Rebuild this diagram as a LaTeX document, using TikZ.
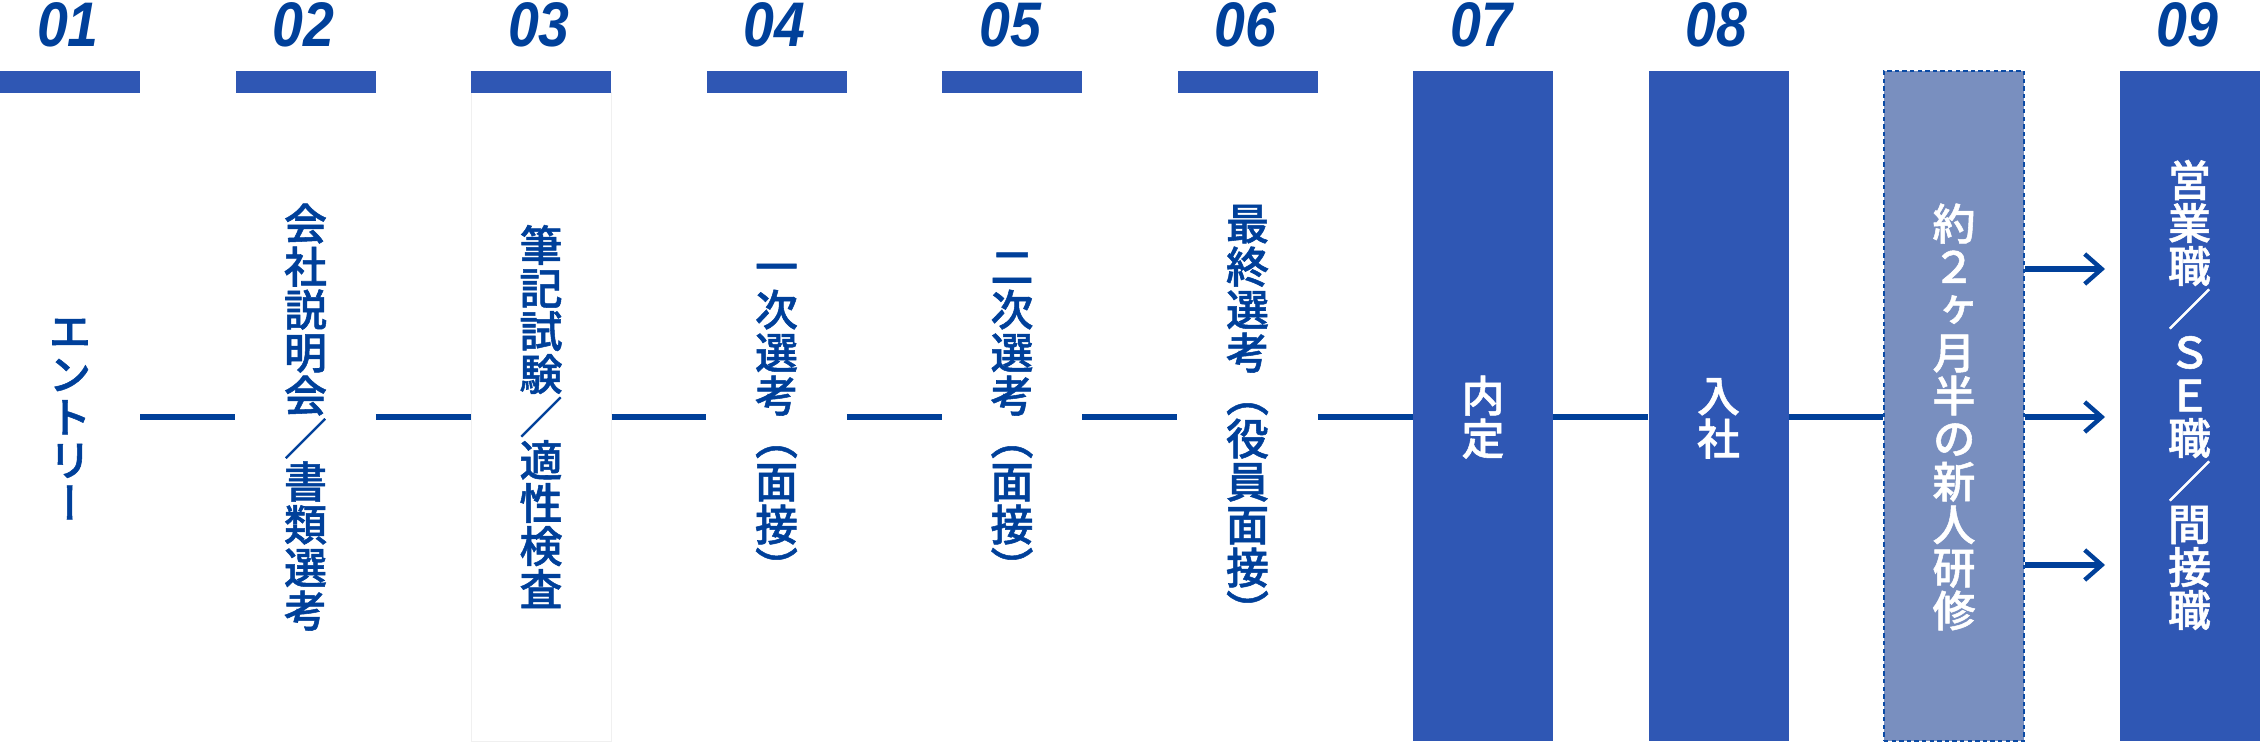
\documentclass[tikz,border=0pt]{standalone}
\usepackage{fontspec}
\usetikzlibrary{arrows.meta}
\IfFontExistsTF{Noto Sans CJK JP Medium}{%
  \newfontfamily\jpv{Noto Sans CJK JP Medium}[RawFeature=+vert,BoldFont={Noto Sans CJK JP Medium},BoldFeatures={FakeBold=1.2}]
  \newfontfamily\jph{Noto Sans CJK JP Medium}[BoldFont={Noto Sans CJK JP Medium},BoldFeatures={FakeBold=1.2}]
}{%
  \newfontfamily\jpv{Noto Sans CJK JP}[RawFeature=+vert]
  \newfontfamily\jph{Noto Sans CJK JP}
}
\newfontfamily\numfont{Liberation Sans}[FakeStretch=0.88]
\definecolor{barblue}{HTML}{2F57B4}
\definecolor{textblue}{HTML}{00409A}
\definecolor{trainfill}{HTML}{798FBF}
\definecolor{dashblue}{HTML}{0B4BA5}
\definecolor{faintgray}{HTML}{F0F0F0}
\newcommand\sla{{\jph\bfseries ／}}
\makeatletter
\def\vst@end{vst@end@marker}
\newcommand\vst[1]{\vbox{\baselineskip=1em\lineskiplimit=-\maxdimen\lineskip=0pt\vst@#1\vst@end}}
\def\vst@#1{\ifx#1\vst@end\else\hbox to 1em{\vrule height .88em depth .12em width 0pt\hss#1\hss}\expandafter\vst@\fi}
\makeatother
\begin{document}
\begin{tikzpicture}[x=0.5pt,y=-0.5pt,
  hdr/.style={fill=barblue,draw=none,inner sep=0pt,minimum width=70pt,minimum height=11pt},
  body/.style={draw=none,inner sep=0pt,minimum width=70pt,minimum height=324pt},
  tall/.style={fill=barblue,draw=none,inner sep=0pt,minimum width=70pt,minimum height=335pt},
  train/.style={fill=trainfill,draw=dashblue,line width=0.8pt,dash pattern=on 2.2pt off 1.6pt,inner sep=0pt,minimum width=70pt,minimum height=335pt},
  num/.style={font=\numfont\bfseries\itshape\fontsize{31.5}{31.5}\selectfont,text=textblue,anchor=base,inner sep=0pt},
  vlab/.style={font=\jpv\bfseries\fontsize{21.5}{21.5}\selectfont,text=textblue,inner sep=0pt},
  wlab/.style={vlab,text=white},
  conn/.style={draw=textblue,line width=3pt},
  arr/.style={draw=textblue,line width=3pt,-{Straight Barb[length=8.5pt,width=15pt,line width=2.2pt]}}]
\useasboundingbox (0,0) rectangle (2260,743);
% column bodies
\node[body] (b0) at (70,417) {};
\node[body] (b1) at (305.5,417) {};
\node[body,draw=faintgray,line width=0.5pt] (b2) at (541,417) {};
\node[body] (b3) at (776.5,417) {};
\node[body] (b4) at (1012,417) {};
\node[body] (b5) at (1247.5,417) {};
\node[tall] (b6) at (1483,406) {};
\node[tall] (b7) at (1718.5,406) {};
\node[train] (b8) at (1954,406) {};
\node[tall] (b9) at (2189.5,406) {};
% header bars
\node[hdr] (h0) at (70,82) {};
\node[hdr] (h1) at (305.5,82) {};
\node[hdr] (h2) at (541,82) {};
\node[hdr] (h3) at (776.5,82) {};
\node[hdr] (h4) at (1012,82) {};
\node[hdr] (h5) at (1247.5,82) {};
% numbers
\node[num] (n0) at (68,47) {01};
\node[num] (n1) at (303.5,47) {02};
\node[num] (n2) at (539,47) {03};
\node[num] (n3) at (774.5,47) {04};
\node[num] (n4) at (1010,47) {05};
\node[num] (n5) at (1245.5,47) {06};
\node[num] (n6) at (1481,47) {07};
\node[num] (n7) at (1716.5,47) {08};
\node[num] (n9) at (2187.5,47) {09};
% labels
\node[vlab] (t0) at (70,417) {\vst{エントリー}};
\node[vlab] (t1) at (305.5,417) {\vst{会社説明会\sla 書類選考}};
\node[vlab] (t2) at (541,417) {\vst{筆記試験\sla 適性検査}};
\node[vlab] (t3) at (776.5,417) {\vst{一次選考（面接）}};
\node[vlab] (t4) at (1012,417) {\vst{二次選考（面接）}};
\node[vlab] (t5) at (1247.5,417) {\vst{最終選考（役員面接）}};
\node[wlab] (t6) at (1483,417) {\vst{内定}};
\node[wlab] (t7) at (1718.5,417) {\vst{入社}};
\node[wlab] (t8) at (1954,417) {\vst{約２ヶ月半の新人研修}};
\node[wlab] (t9) at (2189.5,395) {\vst{営業職\sla ＳＥ職\sla 間接職}};
% connectors
\draw[conn] (b0.east |- t0) -- (b1.west |- t0);
\draw[conn] (b1.east |- t0) -- (b2.west |- t0);
\draw[conn] (b2.east |- t0) -- (b3.west |- t0);
\draw[conn] (b3.east |- t0) -- (b4.west |- t0);
\draw[conn] (b4.east |- t0) -- (b5.west |- t0);
\draw[conn] (b5.east |- t0) -- (b6.west |- t0);
\draw[conn] (b6.east |- t0) -- (b7.west |- t0);
\draw[conn] (b7.east |- t0) -- (b8.west |- t0);
\coordinate (a1) at (2105,269);
\coordinate (a2) at (2105,417);
\coordinate (a3) at (2105,565);
\draw[arr] (b8.east |- a1) -- (a1);
\draw[arr] (b8.east |- a2) -- (a2);
\draw[arr] (b8.east |- a3) -- (a3);
\end{tikzpicture}
\end{document}
